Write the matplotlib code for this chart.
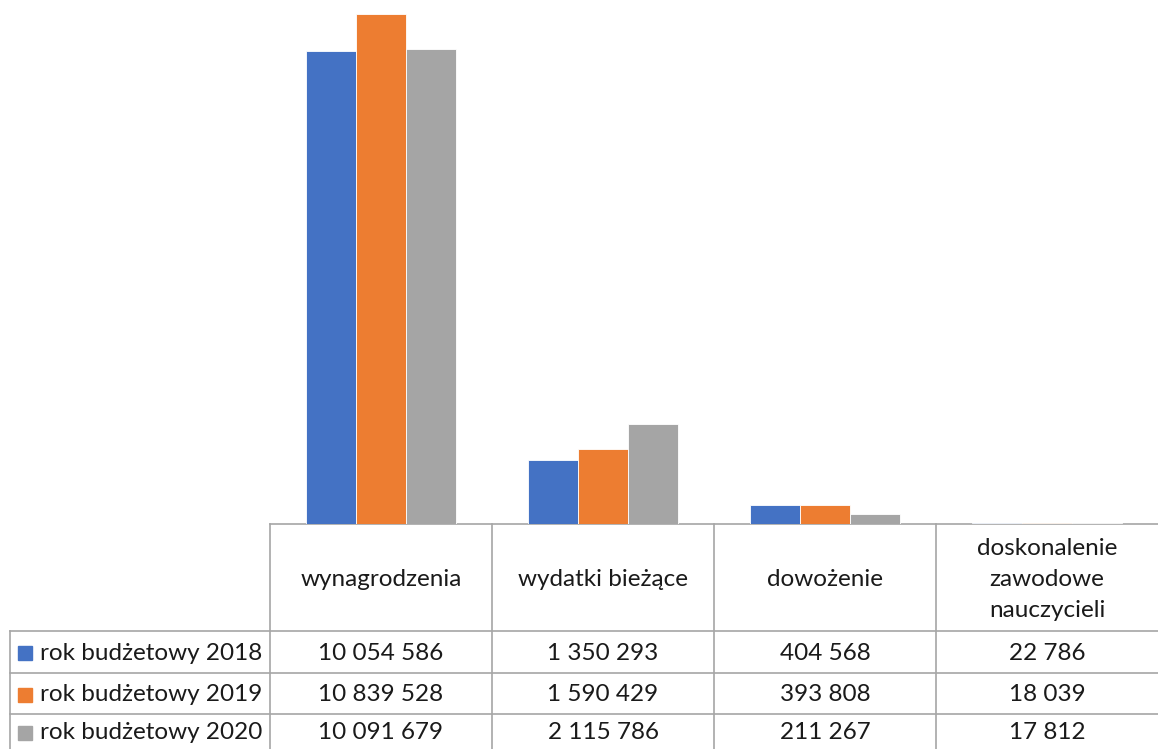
import matplotlib.pyplot as plt
from matplotlib.transforms import blended_transform_factory
import numpy as np

categories = ["wynagrodzenia", "wydatki bieżące", "dowożenie",
              "doskonalenie\nzawodowe\nnauczycieli"]
series = ["rok budżetowy 2018", "rok budżetowy 2019", "rok budżetowy 2020"]
v2018 = [10054586, 1350293, 404568, 22786]
v2019 = [10839528, 1590429, 393808, 18039]
v2020 = [10091679, 2115786, 211267, 17812]
colors = ["#4472C4", "#ED7D31", "#A5A5A5"]

W, H = 1158, 749
fig = plt.figure(figsize=(W / 100, H / 100), dpi=100)
plt.rcParams['font.family'] = ['Lato', 'DejaVu Sans']

base = 524  # pixel row of the baseline
ax = fig.add_axes([270 / W, (H - base) / H, 1 - 270 / W, base / H])

x = np.arange(len(categories))
bw = 0.225
for i, vals in enumerate([v2018, v2019, v2020]):
    ax.bar(x + (i - 1) * bw, vals, bw, color=colors[i], edgecolor="white",
           linewidth=0.6, zorder=3)

ax.set_xlim(-0.5, len(categories) - 0.5)
ax.set_ylim(0, 10839528 * base / (base - 14))
for s in ["top", "right", "left"]:
    ax.spines[s].set_visible(False)
ax.spines["bottom"].set_color("#A6A6A6")
ax.spines["bottom"].set_linewidth(1.2)
ax.spines["bottom"].set_zorder(1)
ax.set_xticks([])
ax.set_yticks([])

# data table below the plot
tr = blended_transform_factory(ax.transData, fig.transFigure)
def fy(py):
    return (H - py) / H

line_c = "#A6A6A6"
rows_y = [631, 673, 714, 755]
fsz = 17.5
tc = "#1a1a1a"

# grid lines of the table
for k in range(len(categories)):
    xb = k - 0.5
    ax.plot([xb, xb], [fy(base), fy(H)], transform=tr, color=line_c, lw=1.2, clip_on=False)
fig.add_artist(plt.Line2D([10 / W, 10 / W], [fy(rows_y[0]), fy(H)], color=line_c, lw=1.2))
for ry in rows_y[:3]:
    fig.add_artist(plt.Line2D([10 / W, 1], [fy(ry), fy(ry)], color=line_c, lw=1.2))

# header texts
for k, c in enumerate(categories):
    ax.text(k, fy((base + rows_y[0]) / 2 + 2), c, transform=tr, ha="center", va="center",
            fontsize=fsz, linespacing=1.6, color=tc)

def fmt(v):
    return f"{v:,}".replace(",", " ")

for r, (name, vals) in enumerate(zip(series, [v2018, v2019, v2020])):
    yc = fy((rows_y[r] + rows_y[r + 1] - (6 if r == 2 else 0)) / 2 + 1)
    fig.add_artist(plt.Rectangle((18 / W, yc - 7 / H), 14 / W, 14 / H,
                                 color=colors[r], transform=fig.transFigure))
    fig.text(40 / W, yc, name, ha="left", va="center", fontsize=fsz, color=tc)
    for k, v in enumerate(vals):
        ax.text(k, yc, fmt(v), transform=tr, ha="center", va="center",
                fontsize=fsz, color=tc)

fig.savefig("out.png", dpi=100)
